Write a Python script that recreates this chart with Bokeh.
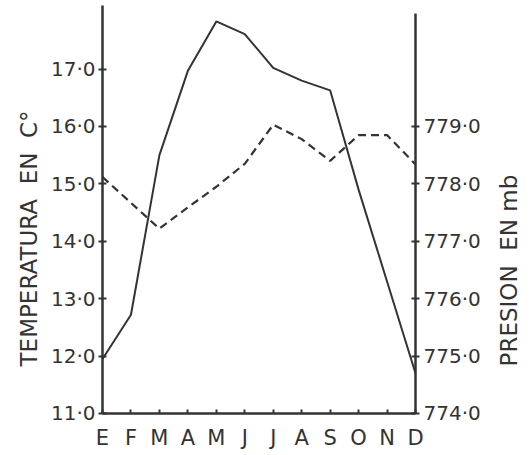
import math
from bokeh.plotting import figure
from bokeh.models import Range1d, LinearAxis, FixedTicker, Label
from bokeh.embed import file_html
from bokeh.resources import INLINE

# Monthly climate record: mean temperature (°C) and mean pressure (mb)
meses = ["E", "F", "M", "A", "M", "J", "J", "A", "S", "O", "N", "D"]
temperatura = [11.95, 12.72, 15.5, 16.97, 17.83, 17.61, 17.02, 16.8, 16.63, 14.9, 13.3, 11.7]
presion = [778.12, 777.67, 777.22, 777.59, 777.95, 778.35, 779.03, 778.78, 778.4, 778.85, 778.85, 778.34]

temp_ticks = [11, 12, 13, 14, 15, 16, 17]
temp_labels = ["11·0", "12·0", "13·0", "14·0", "15·0", "16·0", "17·0"]
pres_ticks = [774, 775, 776, 777, 778, 779]
pres_labels = ["774·0", "775·0", "776·0", "777·0", "778·0", "779·0"]

INK = "#333333"
FONT = "DejaVu Sans"

x = list(range(len(meses)))
n = len(meses) - 1

# the frame fills the whole page; the three axes sit at fixed data positions
p = figure(
    width=531, height=455,
    x_range=Range1d(-3.585, n + 4.077),
    y_range=Range1d(10.268, 18.195),
    output_backend="svg", toolbar_location=None,
    min_border=0, outline_line_color=None,
    background_fill_color="white", border_fill_color="white",
    x_axis_type=None, y_axis_type=None,
)
p.grid.visible = False
p.extra_y_ranges = {"pres": Range1d(773.268, 781.195)}

# temperature: solid line; pressure: dashed line on the right-hand scale
p.line(x, temperatura, line_width=2, line_color=INK)
p.line(x, presion, y_range_name="pres", line_width=2.2, line_color=INK,
       line_dash="8 5")

# bottom axis: month initials
xa = LinearAxis(fixed_location=11, bounds=(0, n), ticker=FixedTicker(ticks=x))
xa.major_label_overrides = {i: m for i, m in zip(x, meses)}
xa.major_tick_in = 4
xa.major_tick_out = 0
xa.major_label_standoff = 13
p.add_layout(xa, "below")

# left axis: temperature
ya = LinearAxis(fixed_location=0, bounds=(11, 18.1),
                ticker=FixedTicker(ticks=temp_ticks))
ya.major_label_overrides = {t: s for t, s in zip(temp_ticks, temp_labels)}
ya.major_tick_in = 4
ya.major_tick_out = 4
ya.major_label_standoff = 3
p.add_layout(ya, "left")

# right axis: pressure
ra = LinearAxis(y_range_name="pres", fixed_location=n, bounds=(774, 780.97),
                ticker=FixedTicker(ticks=pres_ticks))
ra.major_label_overrides = {t: s for t, s in zip(pres_ticks, pres_labels)}
ra.major_tick_in = 4
ra.major_tick_out = 4
ra.major_label_standoff = 4
p.add_layout(ra, "right")

for ax in (xa, ya, ra):
    ax.minor_tick_line_color = None
    ax.axis_line_width = 2.5
    ax.axis_line_color = INK
    ax.major_tick_line_width = 2
    ax.major_tick_line_color = INK
    ax.major_label_text_font = FONT
    ax.major_label_text_font_size = "20px"
    ax.major_label_text_color = INK
xa.major_label_text_font_size = "21px"

# axis titles, both reading upwards
titulo_temp = Label(x=-2.6, y=14.05, text="TEMPERATURA \u00a0EN \u00a0C°",
                    angle=math.pi / 2, text_align="center", text_baseline="middle",
                    text_font=FONT, text_font_size="23px", text_color=INK)
titulo_pres = Label(x=14.3, y=776.49, y_range_name="pres",
                    text="PRESION \u00a0EN mb",
                    angle=math.pi / 2, text_align="center", text_baseline="middle",
                    text_font=FONT, text_font_size="23px", text_color=INK)
p.add_layout(titulo_temp)
p.add_layout(titulo_pres)

open("out.html", "w").write(file_html(p, INLINE))
